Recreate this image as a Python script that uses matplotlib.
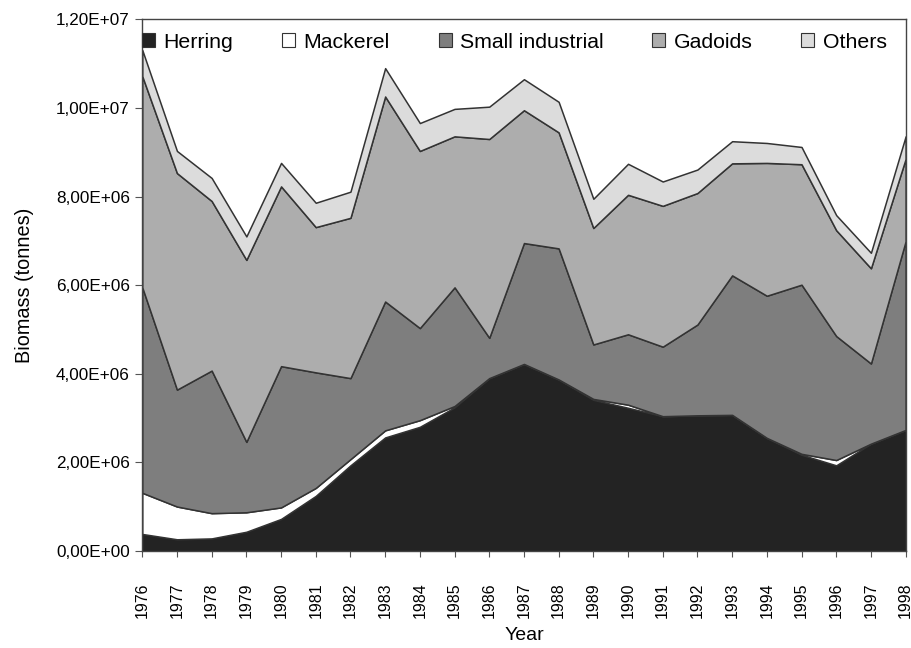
import matplotlib
matplotlib.use("Agg")
import matplotlib.pyplot as plt
from matplotlib.patches import Patch
from matplotlib.ticker import FuncFormatter

plt.rcParams['font.family'] = ['Liberation Sans', 'DejaVu Sans']

# biomass by group, millions of tonnes
years = list(range(1976, 1999))
herring = [0.38, 0.26, 0.28, 0.43, 0.72, 1.24, 1.93, 2.56, 2.80, 3.24, 3.90, 4.22,
           3.87, 3.41, 3.23, 3.04, 3.06, 3.07, 2.55, 2.17, 1.93, 2.42, 2.73]
mackerel = [0.93, 0.74, 0.57, 0.44, 0.26, 0.18, 0.14, 0.16, 0.15, 0.03, 0.0, 0.0,
            0.0, 0.02, 0.07, 0.0, 0.0, 0.0, 0.0, 0.02, 0.12, 0.0, 0.0]
small_industrial = [4.64, 2.64, 3.22, 1.59, 3.19, 2.61, 1.83, 2.91, 2.08, 2.68, 0.91, 2.73,
                    2.96, 1.23, 1.59, 1.57, 2.05, 3.15, 3.21, 3.82, 2.80, 1.81, 4.26]
gadoids = [4.77, 4.89, 3.83, 4.11, 4.06, 3.28, 3.62, 4.63, 4.00, 3.41, 4.49, 3.00,
           2.62, 2.63, 3.15, 3.18, 2.97, 2.53, 3.00, 2.72, 2.39, 2.15, 1.86]
others = [0.59, 0.50, 0.52, 0.53, 0.53, 0.55, 0.59, 0.64, 0.63, 0.62, 0.73, 0.70,
          0.69, 0.66, 0.70, 0.55, 0.53, 0.50, 0.45, 0.39, 0.34, 0.35, 0.51]

labels = ["Herring", "Mackerel", "Small industrial", "Gadoids", "Others"]
colors = ["#232323", "#ffffff", "#7e7e7e", "#adadad", "#dcdcdc"]
edge = "#333333"

series = [[v * 1e6 for v in s] for s in (herring, mackerel, small_industrial, gadoids, others)]

fig = plt.figure(figsize=(9.12, 6.48), dpi=100)
ax = fig.add_axes([0.156, 0.150, 0.837, 0.820])

polys = ax.stackplot(years, *series, colors=colors, edgecolor=edge, linewidth=1.1)
polys[0].set_edgecolor(colors[0])

ax.set_xlim(1976, 1998)
ax.set_ylim(0, 1.2e7)
ax.set_yticks([i * 2e6 for i in range(7)])
ax.yaxis.set_major_formatter(FuncFormatter(
    lambda v, p: ("%.2E" % v).replace(".", ",")))
ax.set_xticks(years)
ax.set_xticklabels([str(y) for y in years], rotation=90, fontsize=11.5)
ax.tick_params(axis='y', labelsize=12.3, length=5, width=0.8, color="#555555", pad=4)
ax.tick_params(axis='x', length=4, width=0.8, color="#555555", pad=19)
for s in ax.spines.values():
    s.set_color("#444444")
    s.set_linewidth(1.0)

ax.set_ylabel("Biomass (tonnes)", fontsize=14.3, labelpad=16)
ax.set_xlabel("Year", fontsize=14, labelpad=6)

handles = [Patch(facecolor=c, edgecolor=edge, linewidth=0.8) for c in colors]
ax.legend(handles, labels, loc="upper left", bbox_to_anchor=(0.0, 0.975), ncol=5,
          frameon=False, fontsize=15.3, handlelength=0.62, handleheight=0.62,
          handletextpad=0.38, columnspacing=2.3, borderaxespad=0.0, borderpad=0.0)

fig.savefig("out.png", dpi=100)
